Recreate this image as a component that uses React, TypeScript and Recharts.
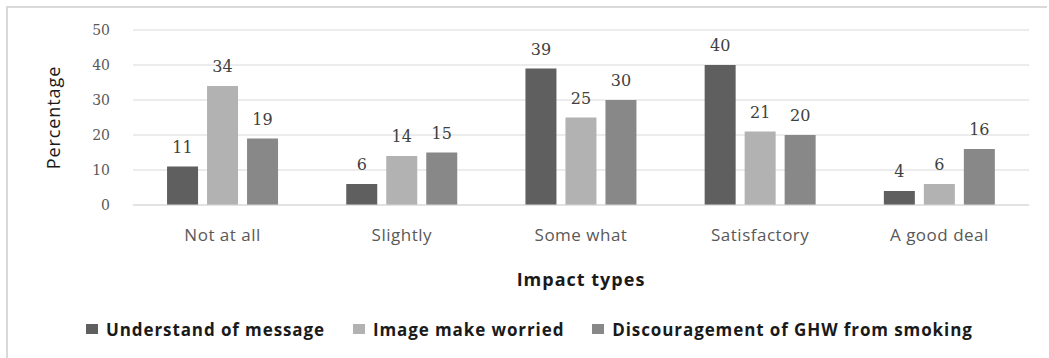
import React from 'react';
import { BarChart, Bar, XAxis, YAxis, CartesianGrid, LabelList, Legend, Label } from 'recharts';

const categories = ['Not at all', 'Slightly', 'Some what', 'Satisfactory', 'A good deal'];
const understandValues = [11, 6, 39, 40, 4];
const worriedValues = [34, 14, 25, 21, 6];
const discourageValues = [19, 15, 30, 20, 16];
const yTicks = [0, 10, 20, 30, 40, 50];

const seriesNames = ['Understand of message', 'Image make worried', 'Discouragement of GHW from smoking'];
const seriesKeys = ['understand', 'worried', 'discourage'];
const seriesColors = ['#5f5f5f', '#b2b2b2', '#888888'];

const data = categories.map((c, i) => ({
  name: c,
  understand: understandValues[i],
  worried: worriedValues[i],
  discourage: discourageValues[i],
}));

const sansFont = '"Open Sans", "Liberation Sans", sans-serif';
const serifFont = '"DejaVu Serif", serif';

const LegendContent = () => (
  <div
    style={{
      height: 30,
      display: 'flex',
      alignItems: 'center',
      paddingLeft: 86,
      fontFamily: sansFont,
      fontWeight: 700,
      fontSize: 17,
      letterSpacing: 0.9,
      color: '#1a1a1a',
      whiteSpace: 'nowrap',
    }}
  >
    {seriesNames.map((n, i) => (
      <div key={n} style={{ display: 'flex', alignItems: 'center', marginRight: 28 }}>
        <span style={{ display: 'inline-block', width: 12, height: 10, background: seriesColors[i], marginRight: 8 }} />
        <span>{n}</span>
      </div>
    ))}
  </div>
);

export default function App() {
  return (
    <div style={{ position: 'absolute', left: 0, top: 0, width: 1049, height: 358, background: '#fff', overflow: 'hidden' }}>
      <div
        style={{
          position: 'absolute',
          left: 6,
          top: 6,
          width: 1041,
          height: 360,
          borderTop: '2px solid #d9d9d9',
          borderLeft: '2px solid #d9d9d9',
          boxSizing: 'border-box',
        }}
      />
      <div style={{ position: 'absolute', left: 0, top: 0 }}>
        <BarChart
          width={1049}
          height={358}
          data={data}
          margin={{ top: 30, right: 20, left: 0, bottom: 14 }}
          barCategoryGap="19%"
          barGap={9}
        >
          <CartesianGrid vertical={false} stroke="#d9d9d9" strokeWidth={1} />
          <XAxis
            dataKey="name"
            height={109}
            axisLine={{ stroke: '#d9d9d9' }}
            tickLine={false}
            tickSize={0}
            tickMargin={24}
            interval={0}
            tick={{ fontFamily: sansFont, fontSize: 17, fill: '#595959', letterSpacing: 0.5 }}
          >
            <Label
              value="Impact types"
              position="insideTop"
              offset={68}
              style={{ fontFamily: sansFont, fontSize: 18, fontWeight: 700, fill: '#1a1a1a', letterSpacing: 1 }}
            />
          </XAxis>
          <YAxis
            width={133}
            domain={[0, 50]}
            ticks={yTicks}
            axisLine={false}
            tickLine={false}
            tickSize={0}
            tickMargin={23}
            tick={{ fontFamily: serifFont, fontSize: 14, fill: '#595959' }}
          >
            <Label
              value="Percentage"
              angle={-90}
              position="insideLeft"
              offset={54}
              textAnchor="middle"
              style={{ fontFamily: sansFont, fontSize: 18, fill: '#1a1a1a', letterSpacing: 0.9 }}
            />
          </YAxis>
          <Legend verticalAlign="bottom" content={<LegendContent />} />
          {seriesKeys.map((k, i) => (
            <Bar key={k} dataKey={k} name={seriesNames[i]} fill={seriesColors[i]} isAnimationActive={false}>
              <LabelList
                dataKey={k}
                position="top"
                offset={14}
                style={{ fontFamily: serifFont, fontSize: 16, fill: '#404040' }}
              />
            </Bar>
          ))}
        </BarChart>
      </div>
    </div>
  );
}
